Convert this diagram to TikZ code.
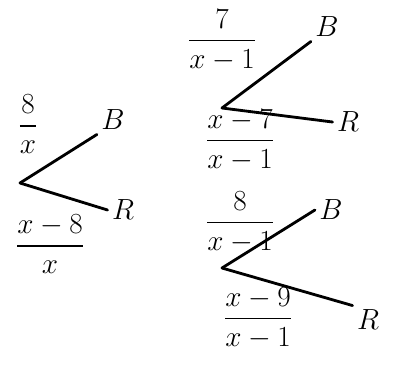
\documentclass[tikz,border=0pt]{standalone}
\usepackage{amsmath}
\usepackage{tikz}
\usetikzlibrary{positioning}

\begin{document}
\begin{tikzpicture}[x=0.025cm, y=-0.025cm,
  leaf/.style={font=\huge, inner sep=3pt},
  prob/.style={font=\huge, inner sep=1pt},
  branch/.style={line width=2pt, line cap=round}
]
  \useasboundingbox (0,0) rectangle (393,371);

  % first draw
  \coordinate (s) at (20,183);
  \node[leaf] (sb) at (113,120) {$B$};
  \node[leaf] (sr) at (123,210) {$R$};
  \draw[branch] (s) -- (sb.south west);
  \draw[branch] (s) -- (sr.west);
  \node[prob] (psb) at (28,124) {$\dfrac{8}{x}$};
  \node[prob] (psr) at (50,244) {$\dfrac{x-8}{x}$};

  % second draw after blue
  \coordinate (b) at (222,108);
  \node[leaf] (bb) at (327,27) {$B$};
  \node[leaf] (br) at (348,122) {$R$};
  \draw[branch] (b) -- (bb.south west);
  \draw[branch] (b) -- (br.west);
  \node[prob] (pbb) at (222,40) {$\dfrac{7}{x-1}$};
  \node[prob] (pbr) at (240,140) {$\dfrac{x-7}{x-1}$};

  % second draw after red
  \coordinate (r) at (222,268);
  \node[leaf] (rb) at (331,210) {$B$};
  \node[leaf] (rr) at (368,320) {$R$};
  \draw[branch] (r) -- (rb.west);
  \draw[branch] (r) -- (rr.north west);
  \node[prob] (prb) at (240,222) {$\dfrac{8}{x-1}$};
  \node[prob] (prr) at (258,318) {$\dfrac{x-9}{x-1}$};
\end{tikzpicture}
\end{document}
